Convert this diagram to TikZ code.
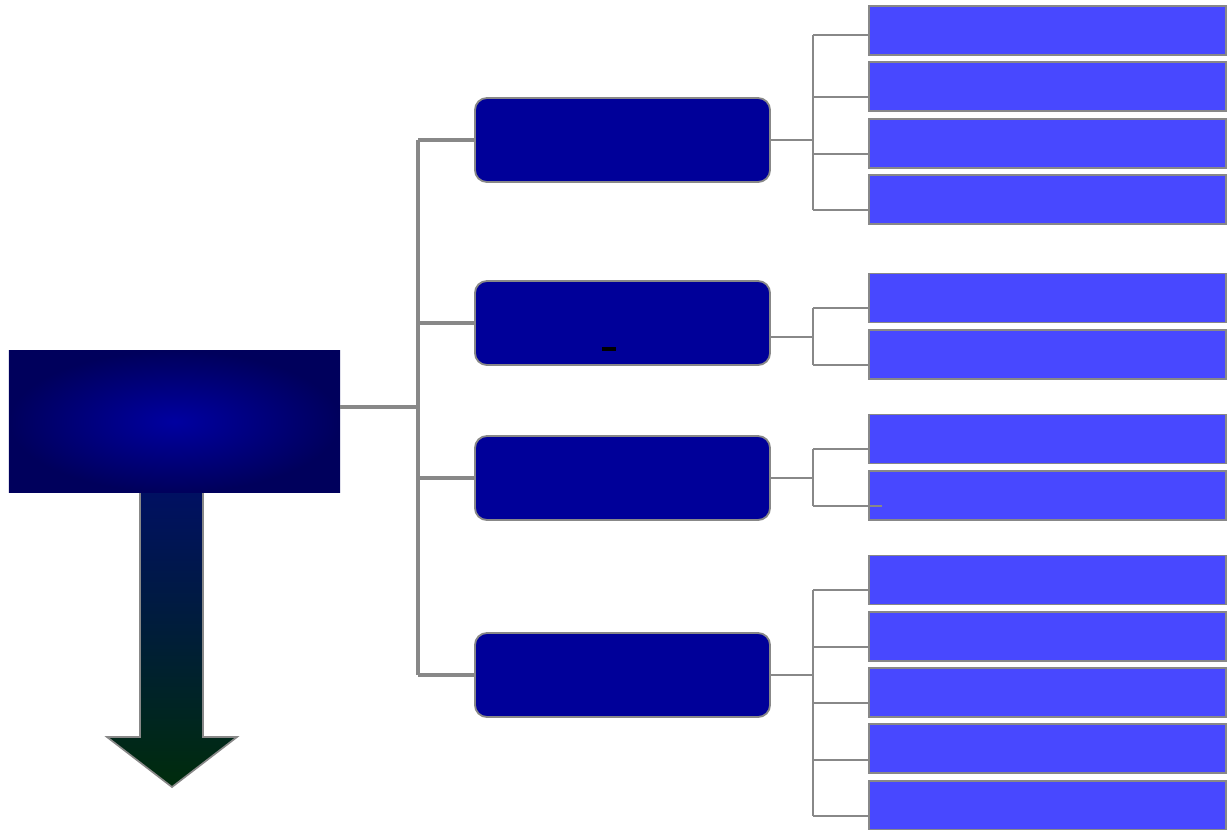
\documentclass[tikz,border=0pt]{standalone}
\usepackage{tikz}
\usepackage{xcolor}
\usetikzlibrary{positioning, calc}

\definecolor{rootmid}{RGB}{0,0,160}
\definecolor{rootedge}{RGB}{0,0,92}
\definecolor{branchblue}{RGB}{0,0,153}
\definecolor{leafblue}{RGB}{72,72,255}
\definecolor{linkgray}{RGB}{136,136,136}
\definecolor{arrowtop}{RGB}{0,16,98}
\definecolor{arrowbot}{RGB}{0,44,12}

\tikzset{
    rootbox/.style={rectangle, inner color=rootmid, outer color=rootedge,
        minimum width=8.275cm, minimum height=3.525cm, inner sep=0pt},
    branchbox/.style={rectangle, rounded corners=0.3cm, fill=branchblue,
        draw=linkgray, line width=1.3pt, minimum width=7.375cm,
        minimum height=2.1cm, inner sep=0pt},
    leafbox/.style={rectangle, fill=leafblue, draw=linkgray, line width=1.3pt,
        minimum width=8.925cm, minimum height=1.225cm, inner sep=0pt},
    trunk/.style={draw=linkgray, line width=2.6pt},
    link/.style={draw=linkgray, line width=1.8pt}
}

\begin{document}
\begin{tikzpicture}[x=0.025cm, y=-0.025cm]
    \useasboundingbox (0,0) rectangle (1227,829);

    % Down arrow under the root
    \shade[top color=arrowtop, bottom color=arrowbot, draw=linkgray, line width=1.2pt]
        (140,492) -- (203,492) -- (203,737) -- (237,737) -- (172,787)
        -- (107,737) -- (140,737) -- cycle;

    % Root
    \node[rootbox] (root) at (174.5,421.5) {};

    % Branches
    \node[branchbox] (b1) at (622.5,140) {};
    \node[branchbox] (b2) at (622.5,323) {};
    \node[branchbox] (b3) at (622.5,478) {};
    \node[branchbox] (b4) at (622.5,675) {};
    \draw[black, line width=2.2pt] (602,349) -- (616,349);

    % Leaves, first group
    \node[leafbox] (l11) at (1047.5,30.5) {};
    \node[leafbox] (l12) at (1047.5,86.5) {};
    \node[leafbox] (l13) at (1047.5,143.5) {};
    \node[leafbox] (l14) at (1047.5,199.5) {};

    % Leaves, second group
    \node[leafbox] (l21) at (1047.5,298) {};
    \node[leafbox] (l22) at (1047.5,354.5) {};

    % Leaves, third group
    \node[leafbox] (l31) at (1047.5,439) {};
    \node[leafbox] (l32) at (1047.5,495.5) {};

    % Leaves, fourth group
    \node[leafbox] (l41) at (1047.5,580) {};
    \node[leafbox] (l42) at (1047.5,636.5) {};
    \node[leafbox] (l43) at (1047.5,692.5) {};
    \node[leafbox] (l44) at (1047.5,748.5) {};
    \node[leafbox] (l45) at (1047.5,805.5) {};

    % Trunk from root to branches
    \coordinate (tr) at (418,407);
    \draw[trunk] (root.east |- tr) -- (tr);
    \draw[trunk] (tr |- b1.west) -- (tr |- b4.west);
    \foreach \b in {b1,b2,b3,b4}
        \draw[trunk] (tr |- \b.west) -- (\b.west);

    % Buses from branches to leaves
    \coordinate (bus) at (813,0);
    \draw[link] (b1.east) -- (bus |- b1.east);
    \draw[link] (b2.east |- 0,337) -- (bus |- 0,337);
    \draw[link] (b3.east) -- (bus |- b3.east);
    \draw[link] (b4.east) -- (bus |- b4.east);

    \draw[link] (bus |- 0,35) -- (bus |- 0,210);
    \draw[link] (bus |- 0,308) -- (bus |- 0,365);
    \draw[link] (bus |- 0,449) -- (bus |- 0,506);
    \draw[link] (bus |- 0,590) -- (bus |- 0,816);

    \draw[link] (bus |- 0,35) -- (l11.west |- 0,35);
    \draw[link] (bus |- 0,97) -- (l12.west |- 0,97);
    \draw[link] (bus |- 0,154) -- (l13.west |- 0,154);
    \draw[link] (bus |- 0,210) -- (l14.west |- 0,210);
    \draw[link] (bus |- 0,308) -- (l21.west |- 0,308);
    \draw[link] (bus |- 0,365) -- (l22.west |- 0,365);
    \draw[link] (bus |- 0,449) -- (l31.west |- 0,449);
    \draw[link] (bus |- 0,506) -- ($(l32.west |- 0,506)+(14,0)$);
    \draw[link] (bus |- 0,590) -- (l41.west |- 0,590);
    \draw[link] (bus |- 0,647) -- (l42.west |- 0,647);
    \draw[link] (bus |- 0,703) -- (l43.west |- 0,703);
    \draw[link] (bus |- 0,760) -- (l44.west |- 0,760);
    \draw[link] (bus |- 0,816) -- (l45.west |- 0,816);
\end{tikzpicture}
\end{document}
